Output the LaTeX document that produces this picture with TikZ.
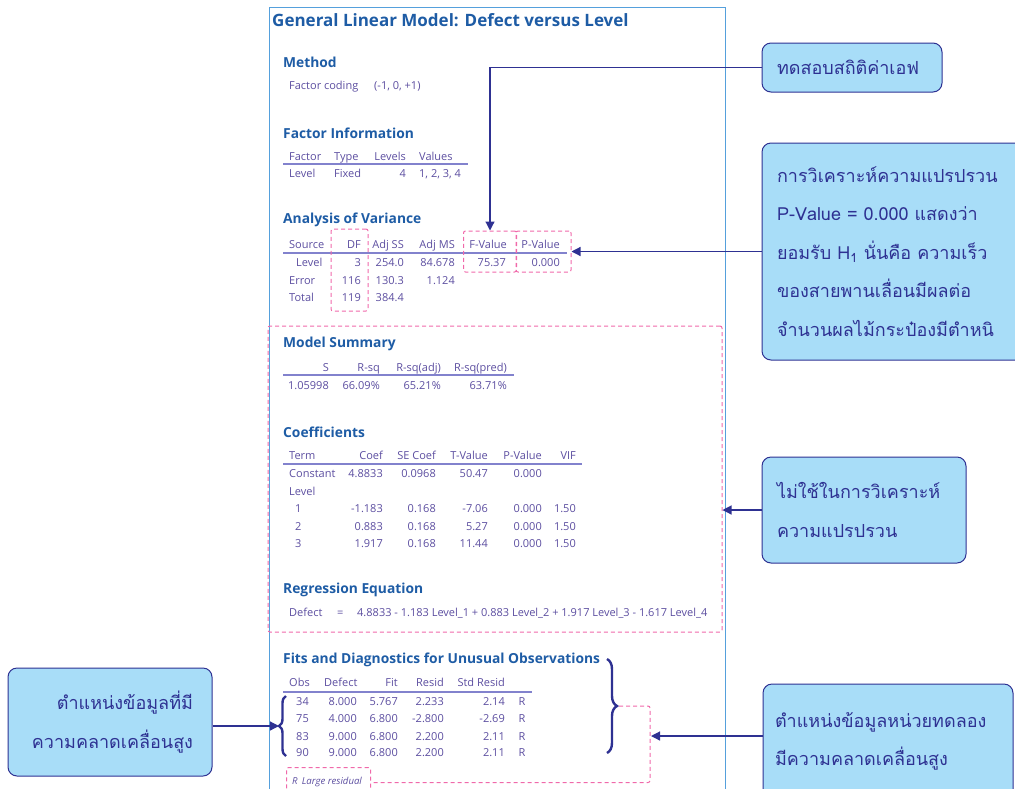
\documentclass[tikz,border=0pt]{standalone}
\usepackage{fontspec}
\setmainfont{Open Sans}
\newfontfamily\thaifont[Script=Thai]{Loma}
\usetikzlibrary{arrows.meta,calc,positioning,fit,decorations.pathreplacing}
\definecolor{headblue}{RGB}{30,92,165}
\definecolor{cellpurple}{RGB}{92,78,160}
\definecolor{rulepurple}{RGB}{130,130,205}
\definecolor{panelblue}{RGB}{85,160,220}
\definecolor{dashpink}{RGB}{240,105,170}
\definecolor{notefill}{RGB}{168,221,248}
\definecolor{navy}{RGB}{46,49,146}
\tikzset{
    %Define style for the output text
    title/.style={
        anchor=west,
        inner sep=0pt,
        text=headblue,
        font=\bfseries\fontsize{17}{20}\selectfont,
    },
    heading/.style={
        anchor=west,
        inner sep=0pt,
        text=headblue,
        font=\bfseries\fontsize{13.8}{15}\selectfont,
    },
    cell/.style={
        inner sep=0pt,
        text=cellpurple,
        font=\fontsize{11}{13}\selectfont,
        text height=8.2pt,
        text depth=2.2pt,
    },
    rule/.style={
        draw=rulepurple,
        line width=1.2pt,
    },
    hilite/.style={
        draw=dashpink,
        line width=1pt,
        dash pattern=on 4pt off 3pt,
        rounded corners=2pt,
    },
    note/.style={
        draw=navy,
        line width=1pt,
        fill=notefill,
        rounded corners=9pt,
        text=navy,
        font=\thaifont\fontsize{18}{38.5}\selectfont,
        inner xsep=15pt,
        inner ysep=0pt,
    },
    link/.style={
        draw=navy,
        line width=1.2pt,
        -{Triangle[length=9pt,width=9pt]},
    },
    curly/.style={
        draw=navy,
        line width=2.4pt,
        decorate,
        decoration={brace,amplitude=#1},
    },
    curly/.default=7pt,
}
\begin{document}
\begin{tikzpicture}[x=1pt,y=-1pt]
    \useasboundingbox (0,0) rectangle (1015,788);
    % output panel
    \draw[panelblue, line width=1pt] (269,800) |- (725,7) -- (725,800);
    \node[title] (title) at (272,20) {General Linear Model: Defect versus Level};

    % method
    \node[heading] (method) at (283,62) {Method};
    \node[cell,anchor=west] (coding) at (289,86) {Factor coding};
    \node[cell,anchor=west] (codes) at (374,86) {(-1, 0, +1)};

    % factor information
    \node[heading] (facinfo) at (283,133) {Factor Information};
    \node[cell,anchor=west] (fih1) at (289,157) {Factor};
    \node[cell,anchor=west] (fih2) at (334,157) {Type};
    \node[cell,anchor=east] (fih3) at (406,157) {Levels};
    \node[cell,anchor=west] (fih4) at (419,157) {Values};
    \draw[rule] (283,164) -- (468,164);
    \node[cell,anchor=west] (fir1) at (289,174) {Level};
    \node[cell,anchor=west] (fir2) at (334,174) {Fixed};
    \node[cell,anchor=east] (fir3) at (406,174) {4};
    \node[cell,anchor=west] (fir4) at (419,174) {1, 2, 3, 4};

    % analysis of variance
    \node[heading] (anova) at (283,220) {Analysis of Variance};
    \node[cell,anchor=west] (avh0) at (289,245) {Source};
    \foreach \x/\t [count=\i] in {361/DF, 404/Adj SS, 455/Adj MS, 507/F-Value, 560/P-Value}
        \node[cell,anchor=east] (avh\i) at (\x,245) {\t};
    \draw[rule] (283,253) -- (567,253);
    \node[cell,anchor=west] (avs1) at (296,263) {Level};
    \node[cell,anchor=west] (avs2) at (289,281) {Error};
    \node[cell,anchor=west] (avs3) at (289,298) {Total};
    \foreach \y/\df/\ss/\ms [count=\i] in {263/3/254.0/84.678, 281/116/130.3/1.124, 298/119/384.4/}{
        \node[cell,anchor=east] (avdf\i) at (361,\y) {\df};
        \node[cell,anchor=east] (avss\i) at (404,\y) {\ss};
        \node[cell,anchor=east] (avms\i) at (455,\y) {\ms};
    }
    \node[cell,anchor=east] (fval) at (506,263) {75.37};
    \node[cell,anchor=east] (pval) at (560,263) {0.000};
    \node[hilite,minimum width=37,minimum height=82] (dfbox) at (349.5,270) {};
    \node[hilite,minimum width=53,minimum height=41] (fbox) at (490,251.5) {};
    \node[hilite,minimum width=55,minimum height=41] (pbox) at (543.5,251.5) {};

    % unused part
    \node[hilite,minimum width=454,minimum height=306] (unused) at (495,479) {};

    % model summary
    \node[heading] (summary) at (283,344) {Model Summary};
    \foreach \x/\h/\v [count=\i] in {329/S/1.05998, 380/R-sq/66.09\%, 441/R-sq(adj)/65.21\%, 507/R-sq(pred)/63.71\%}{
        \node[cell,anchor=east] (msh\i) at (\x,368) {\h};
        \node[cell,anchor=east] (msv\i) at (\x,386) {\v};
    }
    \draw[rule] (283,375) -- (514,375);

    % coefficients
    \node[heading] (coef) at (283,432) {Coefficients};
    \node[cell,anchor=west] (coh0) at (289,456) {Term};
    \foreach \x/\t [count=\i] in {383/Coef, 436/SE Coef, 488/T-Value, 542/P-Value, 576/VIF}
        \node[cell,anchor=east] (coh\i) at (\x,456) {\t};
    \draw[rule] (283,464) -- (582,464);
    \node[cell,anchor=west] (cot0) at (289,474) {Constant};
    \node[cell,anchor=west] (cot1) at (289,492) {Level};
    \foreach \y/\t/\c/\s/\tv/\p/\v [count=\i] in {474//4.8833/0.0968/50.47/0.000/, 509/1/-1.183/0.168/-7.06/0.000/1.50, 527/2/0.883/0.168/5.27/0.000/1.50, 544/3/1.917/0.168/11.44/0.000/1.50}{
        \node[cell,anchor=west] (cor\i) at (295,\y) {\t};
        \node[cell,anchor=east] (coc\i) at (383,\y) {\c};
        \node[cell,anchor=east] (cos\i) at (436,\y) {\s};
        \node[cell,anchor=east] (cotv\i) at (488,\y) {\tv};
        \node[cell,anchor=east] (cop\i) at (542,\y) {\p};
        \node[cell,anchor=east] (cov\i) at (576,\y) {\v};
    }

    % regression equation
    \node[heading] (regeq) at (283,590) {Regression Equation};
    \node[cell,anchor=west] (eqlhs) at (289,613) {Defect};
    \node[cell,anchor=west] (eqsign) at (337,613) {=};
    \node[cell,anchor=west] (eqrhs) at (357,613) {4.8833 - 1.183 Level\_1 + 0.883 Level\_2 + 1.917 Level\_3 - 1.617 Level\_4};

    % unusual observations
    \node[heading] (fits) at (283,660) {Fits and Diagnostics for Unusual Observations};
    \node[cell,anchor=west] (fih0) at (289,683) {Obs};
    \node[cell,anchor=west] (fihd) at (324,683) {Defect};
    \node[cell,anchor=east] (fihf) at (398,683) {Fit};
    \node[cell,anchor=east] (fihr) at (444,683) {Resid};
    \node[cell,anchor=east] (fihs) at (505,683) {Std Resid};
    \draw[rule] (283,692) -- (532,692);
    \foreach \y/\o/\d/\f/\r/\s [count=\i] in {702/34/8.000/5.767/2.233/2.14, 719/75/4.000/6.800/-2.800/-2.69, 737/83/9.000/6.800/2.200/2.11, 753/90/9.000/6.800/2.200/2.11}{
        \node[cell,anchor=east] (fro\i) at (309,\y) {\o};
        \node[cell,anchor=east] (frd\i) at (357,\y) {\d};
        \node[cell,anchor=east] (frf\i) at (398,\y) {\f};
        \node[cell,anchor=east] (frr\i) at (444,\y) {\r};
        \node[cell,anchor=east] (frs\i) at (505,\y) {\s};
        \node[cell] (frx\i) at (522,\y) {R};
    }
    \node[hilite,minimum width=84,minimum height=30,anchor=north west] (rbox) at (286,767) {};
    \node[cell,anchor=west,font=\itshape\fontsize{9.6}{11}\selectfont] (rnote) at (292,781) {R\, Large residual};

    % braces
    \draw[curly=7pt] (286,756) -- (286,696);
    \draw[curly=10pt] (607,659) -- (607,753);
    \coordinate (ltip) at (279,726);
    \coordinate (rtip) at (619,706);
    \coordinate (rhit) at (651,736);
    \draw[hilite] (rtip) -- (650,706) |- (rbox.east);

    % notes
    \node[note,minimum width=180,minimum height=49,text width=150,align=left] (note1) at (852,67.5) {ทดสอบสถิติค่าเอฟ};
    \node[note,minimum width=278,minimum height=217,text width=248,align=left] (note2) at (901,251.5) {การวิเคราะห์ความแปรปรวน\\P-Value = 0.000 แสดงว่า\\ยอมรับ H\textsubscript{1} นั่นคือ ความเร็ว\\ของสายพานเลื่อนมีผลต่อ\\จำนวนผลไม้กระป๋องมีตำหนิ};
    \node[note,minimum width=204,minimum height=106,text width=174,align=left] (note3) at (864,510) {ไม่ใช้ในการวิเคราะห์\\ความแปรปรวน};
    \node[note,minimum width=204,minimum height=108,text width=166,inner xsep=19pt,align=right] (note4) at (110,722) {ตำแหน่งข้อมูลที่มี\\ความคลาดเคลื่อนสูง};
    \node[note,minimum width=250,minimum height=115,text width=226,inner xsep=12pt,align=left] (note5) at (888,741.5) {ตำแหน่งข้อมูลหน่วยทดลอง\\มีความคลาดเคลื่อนสูง};

    % connectors
    \draw[link] (note1.west) -| (fbox.north);
    \draw[link] (note2.west |- pbox.east) -- (pbox.east);
    \draw[link] (note3.west) -- (note3.west -| unused.east);
    \draw[link] (note4.east |- ltip) -- (ltip);
    \draw[link] (rhit -| note5.west) -- (rhit);
\end{tikzpicture}
\end{document}
